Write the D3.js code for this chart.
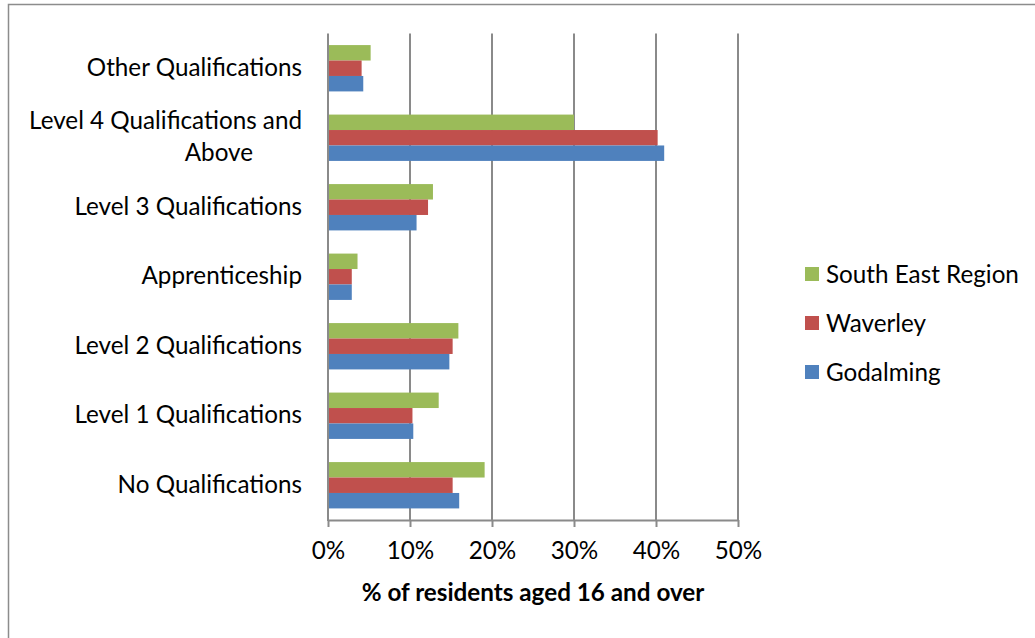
<!DOCTYPE html>
<html><head><meta charset="utf-8">
<script src="https://cdn.jsdelivr.net/npm/d3@7"></script>
<style>body{margin:0;background:#fff}svg{display:block}text{font-family:Lato,"Open Sans",sans-serif;fill:#000}</style>
</head><body>
<svg id="c" width="1035" height="638"></svg>
<script>
const categories = ["Other Qualifications", "Level 4 Qualifications and Above", "Level 3 Qualifications", "Apprenticeship", "Level 2 Qualifications", "Level 1 Qualifications", "No Qualifications"];
const seriesNames = ["South East Region", "Waverley", "Godalming"];
const southEast = [5.2, 30.0, 12.8, 3.6, 15.9, 13.5, 19.1];
const waverley  = [4.1, 40.2, 12.2, 2.9, 15.2, 10.3, 15.2];
const godalming = [4.3, 41.0, 10.8, 2.9, 14.8, 10.4, 16.0];
const xTicks = [0, 10, 20, 30, 40, 50];
const colors = ["#9BBB59", "#C0504D", "#4F81BD"];
const axisTitle = "% of residents aged 16 and over";

const svg = d3.select("#c");
const m = {left: 328, right: 738, top: 33.5, bottom: 520};

// fit font size so the longest label matches the reference width
const probe = svg.append("text").style("font-size", "20px").text("Level 4 Qualifications and");
const fs = 20 * 273 / probe.node().getComputedTextLength();
probe.remove();

// outer border
svg.append("rect").attr("x", 8.5).attr("y", 4.5).attr("width", 1100).attr("height", 700)
  .attr("fill", "none").attr("stroke", "#8c8c8c").attr("stroke-width", 1.5);

const x = d3.scaleLinear().domain([0, 50]).range([m.left, m.right]);
const y = d3.scaleBand().domain(categories).range([m.top, m.bottom]).paddingInner(0.3333).paddingOuter(0.16667);
const yIn = d3.scaleBand().domain(seriesNames).range([0, y.bandwidth()]);

// gridlines
svg.append("g").selectAll("line").data(xTicks.slice(1)).join("line")
  .attr("x1", d => x(d)).attr("x2", d => x(d)).attr("y1", m.top).attr("y2", m.bottom)
  .attr("stroke", "#8a8a8a").attr("stroke-width", 2);

// bars
const seriesData = [southEast, waverley, godalming];
seriesNames.forEach((s, i) => {
  svg.append("g").selectAll("rect").data(categories).join("rect")
    .attr("x", x(0))
    .attr("y", c => y(c) + yIn(s))
    .attr("width", (c, j) => x(seriesData[i][j]) - x(0))
    .attr("height", yIn.bandwidth())
    .attr("fill", colors[i]);
});

// x axis
const xAxis = d3.axisBottom(x).tickValues(xTicks).tickFormat(d => d + "%").tickSize(7).tickSizeOuter(0).tickPadding(15);
const gx = svg.append("g").attr("transform", `translate(0,${m.bottom})`).call(xAxis);
gx.select(".domain").attr("stroke", "#8a8a8a").attr("stroke-width", 2);
gx.selectAll(".tick line").attr("stroke", "#8a8a8a").attr("stroke-width", 2);
gx.selectAll(".tick text").style("font-family", 'Lato,"Open Sans",sans-serif').style("font-size", fs + "px").attr("fill", "#000");

// y axis line
svg.append("line").attr("x1", m.left).attr("x2", m.left).attr("y1", m.top).attr("y2", m.bottom + 1)
  .attr("stroke", "#8a8a8a").attr("stroke-width", 2);

// category labels
categories.forEach(c => {
  const cy = y(c) + y.bandwidth() / 2 - 2;
  if (c === "Level 4 Qualifications and Above") {
    svg.append("text").attr("x", 302).attr("y", cy - 16).attr("text-anchor", "end")
      .attr("dominant-baseline", "central").style("font-size", fs + "px").text("Level 4 Qualifications and");
    svg.append("text").attr("x", 253).attr("y", cy + 16).attr("text-anchor", "end")
      .attr("dominant-baseline", "central").style("font-size", fs + "px").text("Above");
  } else {
    svg.append("text").attr("x", 302).attr("y", cy).attr("text-anchor", "end")
      .attr("dominant-baseline", "central").style("font-size", fs + "px").text(c);
  }
});

// axis title
svg.append("text").attr("x", (m.left + m.right) / 2).attr("y", 601).attr("text-anchor", "middle")
  .style("font-size", fs + "px").style("font-weight", "bold").text(axisTitle);

// legend
const lg = svg.append("g");
seriesNames.forEach((s, i) => {
  const ly = 273 + i * 49;
  lg.append("rect").attr("x", 805).attr("y", ly - 6).attr("width", 14).attr("height", 14).attr("fill", colors[i]);
  lg.append("text").attr("x", 826).attr("y", ly).attr("dominant-baseline", "central")
    .style("font-size", fs + "px").text(s);
});
</script>
</body></html>
